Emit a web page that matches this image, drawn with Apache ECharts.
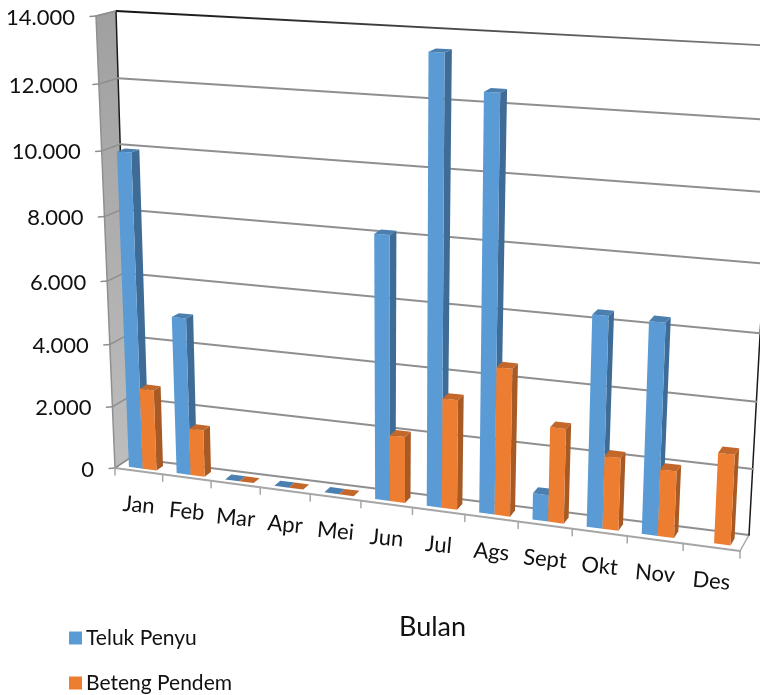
<!DOCTYPE html>
<html><head><meta charset="utf-8">
<style>html,body{margin:0;padding:0;background:#fff}#c{width:760px;height:695px}</style>
<script src="https://cdn.jsdelivr.net/npm/echarts@6/dist/echarts.min.js"></script>
</head><body><div id="c"></div>
<script>
const categories = ['Jan','Feb','Mar','Apr','Mei','Jun','Jul','Ags','Sept','Okt','Nov','Des'];
const telukPenyu = [9960,5000,0,0,0,8150,13500,12480,820,6380,6350,null];
const betengPendem = [2600,1500,0,0,0,2070,3400,4530,2900,2220,2020,2720];
const yTicks = [0,2000,4000,6000,8000,10000,12000,14000];
const yTickLabels = ['0','2.000','4.000','6.000','8.000','10.000','12.000','14.000'];

const FONT = 'Lato';
// Perspective frame of the chart box: corners of the front and back planes
const frontQuad = [[115,468],[740,551],[763,56],[96,16]];
const backQuad  = [[130,458],[749,535],[776,46],[116,11]];
const DEPTH0 = 0.25, DEPTH1 = 0.69;
const BAR_FRAC = 0.29;
const GRID = {left:100, top:40, width:600, height:400};

function homography(q){
  const [[x0,y0],[x1,y1],[x2,y2],[x3,y3]] = q;
  const dx1=x1-x2, dx2=x3-x2, sx=x0-x1+x2-x3, dy1=y1-y2, dy2=y3-y2, sy=y0-y1+y2-y3;
  const den=dx1*dy2-dx2*dy1;
  const g=(sx*dy2-dx2*sy)/den, h=(dx1*sy-sx*dy1)/den;
  const a=x1-x0+g*x1, b=x3-x0+h*x3, d=y1-y0+g*y1, e=y3-y0+h*y3;
  return (u,v)=>{const w=g*u+h*v+1; return [(a*u+b*v+x0)/w,(d*u+e*v+y0)/w];};
}
const hFront = homography(frontQuad), hBack = homography(backQuad);
function project(u,v,w){
  const f=hFront(u,v), b=hBack(u,v);
  return [f[0]+(b[0]-f[0])*w, f[1]+(b[1]-f[1])*w];
}
// axis pixel -> unit box coordinates
const toU = px => (px-GRID.left)/GRID.width;
const toV = py => (GRID.top+GRID.height-py)/GRID.height;

function line(a,b,stroke,lw){
  return {type:'line',shape:{x1:a[0],y1:a[1],x2:b[0],y2:b[1]},style:{stroke:stroke,lineWidth:lw,lineCap:'round'},silent:true};
}
function poly(pts,fill){
  return {type:'polygon',shape:{points:pts},style:{fill:fill,stroke:null},silent:true};
}
function barRender(startFrac,colors){
  return function(params,api){
    const val=api.value(1);
    if(val==null||isNaN(val)) return null;
    const idx=api.value(0);
    const c=api.coord([idx,val]);
    const z=api.coord([idx,0]);
    const band=api.size([1,0])[0];
    const cellLeft=c[0]-band/2;
    const u0=toU(cellLeft+band*startFrac), u1=toU(cellLeft+band*(startFrac+BAR_FRAC));
    const v0=toV(z[1]), v1=toV(c[1]);
    const P=project;
    const children=[];
    if(val>0){
      children.push(poly([P(u1,v0,DEPTH0),P(u1,v0,DEPTH1),P(u1,v1,DEPTH1),P(u1,v1,DEPTH0)],colors.side));
      children.push(poly([P(u0,v0,DEPTH0),P(u1,v0,DEPTH0),P(u1,v1,DEPTH0),P(u0,v1,DEPTH0)],colors.front));
    }
    children.push(poly([P(u0,v1,DEPTH0),P(u1,v1,DEPTH0),P(u1,v1,DEPTH1),P(u0,v1,DEPTH1)],colors.top));
    return {type:'group',children:children};
  };
}
function frameRender(params,api){
  const W='#8f8f8f';
  const kids=[];
  kids.push(poly([project(0,0,0),project(0,0,1),project(0,1,1),project(0,1,0)],
    {type:'linear',x:0,y:0,x2:0,y2:1,colorStops:[{offset:0,color:'#a0a0a0'},{offset:1,color:'#bdbdbd'}]}));
  kids.push(line(project(0,0,1),project(1,0,1),W,2));
  kids.push(line(project(0,0,0),project(1,0,0),'#a6a6a6',2));
  kids.push(line(project(0,0,0),project(0,0,1),'#777777',1.5));
  kids.push(line(project(1,0,0),project(1,0,1),'#a6a6a6',1.5));
  kids.push(line(project(0,0,0),project(0,1,0),W,1.5));
  kids.push(line(project(0,1,0),project(0,1,1),W,1.5));
  kids.push(line(project(0,0,1),project(0,1,1),'#1a1a1a',1.5));
  kids.push(line(project(1,0,1),project(1,1,1),'#1a1a1a',1.5));
  return {type:'group',children:kids};
}
function topEdgeRender(){
  const a=project(0,1,1), b=project(1,1,1);
  return {type:'line',shape:{x1:a[0],y1:a[1],x2:b[0],y2:b[1]},silent:true,
    style:{lineWidth:1.8,stroke:{type:'linear',x:0,y:0,x2:1,y2:0,colorStops:[{offset:0,color:'#111111'},{offset:1,color:'#808080'}]}}};
}
function yTickRender(params,api){
  const val=api.value(1);
  const c=api.coord([0,val]);
  const v=toV(c[1]);
  const f=project(0,v,0), b=project(0,v,1), r=project(1,v,1);
  const kids=[];
  kids.push(line([f[0]-6,f[1]+0.5],f,'#8f8f8f',1.5));
  kids.push(line(f,b,'#8f8f8f',1.5));
  if(val>0&&val<14000) kids.push(line(b,r,'#8f8f8f',2));
  kids.push({type:'text',silent:true,x:f[0]-21,y:f[1]+1.5,
    style:{text:yTickLabels[params.dataIndex],fill:'#111',font:'22px '+FONT,align:'right',verticalAlign:'middle'}});
  return {type:'group',children:kids};
}
function xTickRender(params,api){
  const idx=api.value(0);
  const c=api.coord([idx,0]);
  const band=api.size([1,0])[0];
  const v=toV(c[1]);
  const uL=toU(c[0]-band/2), uR=toU(c[0]+band/2), uC=toU(c[0]);
  const p=project(uL,v,0), m=project(uC,v,0);
  const kids=[line(p,[p[0],p[1]+7],'#a6a6a6',1.5)];
  if(idx===categories.length-1){const q=project(uR,v,0);kids.push(line(q,[q[0],q[1]+7],'#a6a6a6',1.5));}
  kids.push({type:'text',silent:true,x:m[0],y:m[1]+34,rotation:-0.09,
    style:{text:categories[idx],fill:'#111',font:'22px '+FONT,align:'center',verticalAlign:'middle'}});
  return {type:'group',children:kids};
}
const blue={front:'#5B9BD5',side:'#3E6C96',top:'#4A7FB0'};
const orange={front:'#ED7D31',side:'#A85A24',top:'#C4672A'};
const chart=echarts.init(document.getElementById('c'),null,{renderer:'canvas'});
chart.setOption({
  animation:false,
  backgroundColor:'#fff',
  title:{text:'Bulan',left:394,top:609,textStyle:{fontFamily:FONT,fontSize:27,fontWeight:'normal',color:'#111'}},
  legend:{orient:'vertical',left:69,top:626,height:90,padding:0,itemWidth:13,itemHeight:13,itemGap:21,icon:'rect',
    data:['Teluk Penyu','Beteng Pendem'],
    textStyle:{fontFamily:FONT,fontSize:21,color:'#111',padding:[0,0,0,-1],lineHeight:24},selectedMode:false},
  grid:GRID,
  xAxis:{type:'category',data:categories,show:false},
  yAxis:{type:'value',min:0,max:14000,interval:2000,show:false},
  series:[
    {type:'custom',name:'frame',silent:true,data:[[0,0]],renderItem:frameRender,clip:false,z:1},
    {type:'custom',name:'yAxisMarks',silent:true,data:yTicks.map(t=>[0,t]),renderItem:yTickRender,clip:false,z:2},
    {type:'custom',name:'topEdge',silent:true,data:[[0,0]],renderItem:topEdgeRender,clip:false,z:2},
    {type:'custom',name:'xAxisMarks',silent:true,data:categories.map((c,i)=>[i,0]),renderItem:xTickRender,clip:false,z:2},
    {type:'custom',name:'Teluk Penyu',itemStyle:{color:blue.front},silent:true,clip:false,z:3,
      data:telukPenyu.map((v,i)=>[i,v==null?'-':v]),renderItem:barRender(0.215,blue)},
    {type:'custom',name:'Beteng Pendem',itemStyle:{color:orange.front},silent:true,clip:false,z:4,
      data:betengPendem.map((v,i)=>[i,v]),renderItem:barRender(0.505,orange)}
  ]
});
</script></body></html>
